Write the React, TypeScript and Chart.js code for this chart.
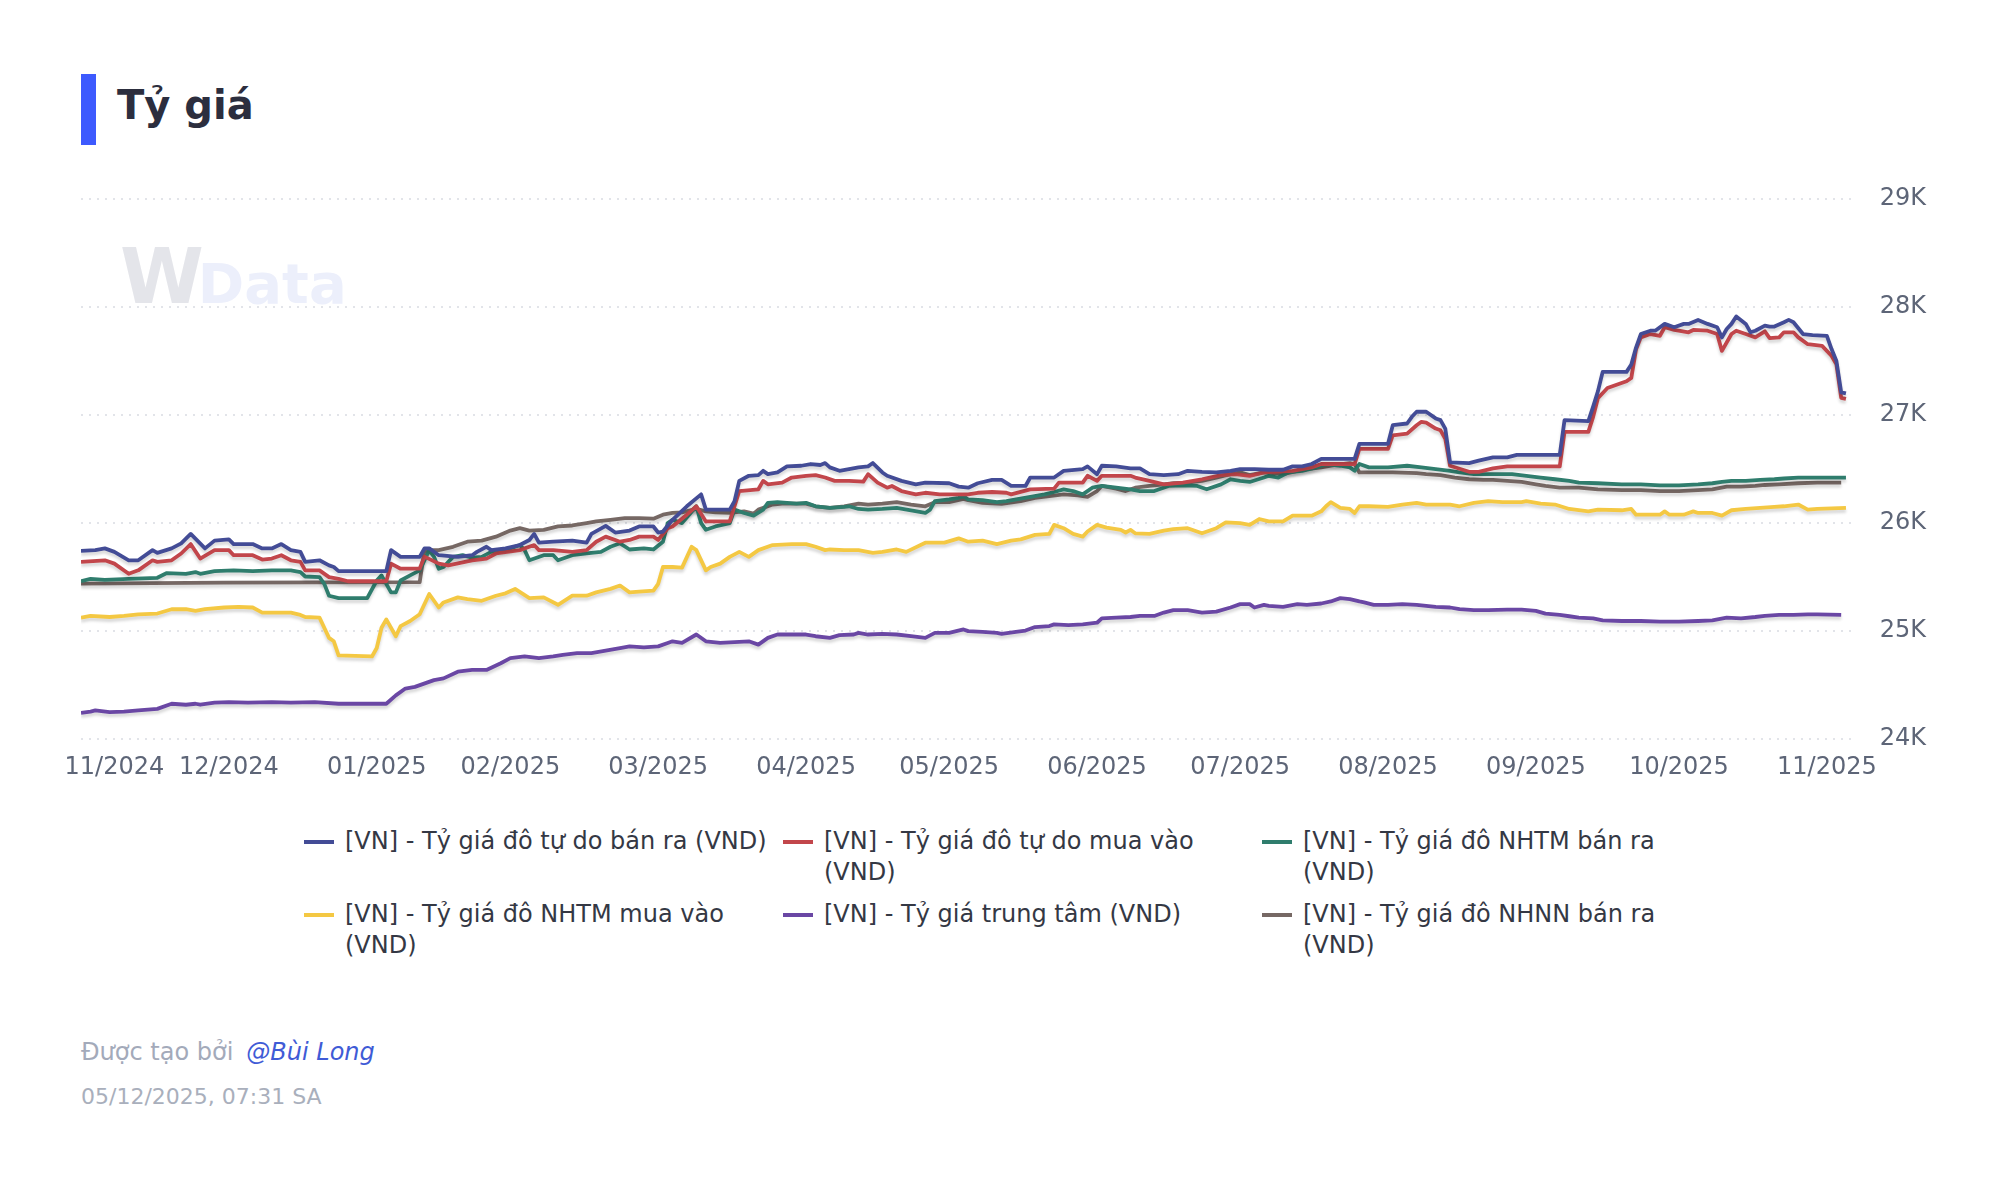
import React, { useEffect, useRef } from "react";
import { Chart, registerables } from "chart.js";

Chart.register(...registerables);

// ---- Data (x = days since 2024-10-31) ----
const START_DATE = "2024-10-31";
const TICK_DAYS = [7, 31, 62, 90, 121, 152, 182, 213, 243, 274, 305, 335, 366];
const TICK_LABELS = ["11/2024", "12/2024", "01/2025", "02/2025", "03/2025", "04/2025", "05/2025", "06/2025", "07/2025", "08/2025", "09/2025", "10/2025", "11/2025"];
const Y_MIN = 24000;
const Y_MAX = 29000;
const Y_STEP = 1000;

const SERIES_NAMES = [
  "[VN] - Tỷ giá đô tự do bán ra (VND)",
  "[VN] - Tỷ giá đô tự do mua vào (VND)",
  "[VN] - Tỷ giá đô NHTM bán ra (VND)",
  "[VN] - Tỷ giá đô NHTM mua vào (VND)",
  "[VN] - Tỷ giá trung tâm (VND)",
  "[VN] - Tỷ giá đô NHNN bán ra (VND)",
];
const SERIES_COLORS = ["#434c96", "#c2464b", "#2f7d6d", "#f4c843", "#6a47a4", "#766864"];

const FREE_SELL: [number, number][] = [
  [0,25744],[3,25750],[5,25766],[7,25734],[10,25656],[12,25656],[15,25750],[16,25725],[19,25766],[21,25813],[23,25900],[26,25766],[28,25838],[31,25850],[32,25806],[36,25806],[38,25766],[40,25766],[42,25806],[44,25750],[46,25734],[47,25641],[50,25656],[52,25609],[53,25594],[54,25556],[61,25556],[64,25556],[65,25750],[67,25688],[71,25688],[72,25766],[73,25766],[75,25703],[79,25688],[82,25703],[83,25734],[85,25781],[86,25750],[89,25766],[92,25797],[94,25844],[95,25900],[96,25819],[99,25828],[103,25838],[106,25819],[107,25900],[110,25975],[112,25913],[115,25931],[117,25969],[120,25969],[121,25913],[122,25922],[124,26031],[127,26156],[130,26266],[131,26125],[136,26125],[137,26203],[138,26391],[140,26438],[142,26444],[143,26484],[144,26453],[146,26469],[148,26525],[151,26531],[153,26547],[155,26538],[156,26556],[157,26516],[159,26484],[161,26500],[163,26516],[165,26525],[166,26556],[168,26469],[169,26438],[172,26391],[175,26359],[177,26375],[182,26369],[184,26338],[186,26328],[188,26369],[191,26400],[193,26400],[195,26344],[198,26344],[199,26422],[204,26422],[206,26484],[210,26500],[211,26525],[213,26453],[214,26531],[217,26525],[220,26506],[222,26506],[224,26453],[227,26444],[230,26453],[232,26484],[235,26475],[238,26469],[241,26484],[243,26500],[246,26500],[249,26494],[252,26494],[254,26525],[256,26525],[258,26547],[260,26594],[267,26594],[268,26734],[274,26734],[275,26906],[278,26922],[279,26984],[280,27031],[282,27031],[284,26969],[285,26953],[286,26875],[287,26563],[291,26556],[293,26578],[296,26609],[299,26609],[301,26631],[310,26631],[311,26953],[316,26944],[317,27078],[318,27219],[319,27400],[324,27400],[325,27469],[326,27625],[327,27750],[329,27781],[330,27781],[332,27844],[334,27813],[336,27844],[337,27844],[339,27881],[341,27844],[343,27813],[344,27719],[345,27797],[346,27844],[347,27913],[349,27844],[350,27766],[351,27781],[353,27828],[354,27819],[355,27819],[357,27859],[358,27881],[359,27859],[361,27750],[363,27741],[366,27734],[367,27609],[368,27500],[369,27210],[370,27200],
];

const FREE_BUY: [number, number][] = [
  [0,25641],[5,25656],[7,25625],[10,25531],[12,25563],[15,25656],[16,25641],[19,25656],[21,25719],[23,25806],[25,25672],[28,25750],[31,25750],[32,25703],[36,25703],[38,25663],[40,25672],[42,25703],[44,25656],[46,25641],[47,25563],[50,25563],[52,25500],[54,25484],[56,25462],[61,25462],[64,25462],[65,25625],[67,25578],[71,25578],[72,25690],[75,25625],[77,25609],[82,25656],[85,25672],[87,25719],[92,25750],[95,25797],[96,25750],[99,25750],[103,25734],[106,25750],[108,25828],[110,25875],[113,25828],[115,25844],[117,25875],[120,25875],[121,25844],[123,25953],[124,25969],[127,26078],[129,26156],[131,26016],[136,26016],[137,26156],[138,26297],[142,26313],[143,26391],[144,26359],[147,26375],[149,26422],[152,26438],[154,26444],[156,26422],[158,26391],[161,26391],[164,26384],[165,26453],[167,26375],[169,26328],[170,26344],[172,26297],[175,26266],[177,26281],[180,26266],[183,26266],[186,26266],[188,26281],[191,26288],[194,26281],[195,26266],[199,26313],[204,26319],[205,26375],[210,26375],[211,26438],[213,26391],[214,26438],[220,26438],[221,26422],[224,26391],[227,26359],[231,26375],[235,26406],[239,26444],[242,26453],[245,26438],[248,26469],[254,26484],[258,26516],[260,26547],[267,26547],[268,26688],[274,26688],[275,26813],[278,26828],[280,26906],[281,26938],[282,26931],[284,26875],[285,26859],[286,26781],[287,26531],[291,26475],[293,26475],[296,26506],[299,26525],[302,26525],[305,26525],[310,26525],[311,26844],[316,26844],[317,26984],[318,27156],[320,27250],[324,27313],[325,27344],[326,27609],[327,27719],[329,27750],[331,27734],[332,27813],[334,27788],[337,27766],[338,27788],[341,27781],[343,27750],[344,27594],[346,27750],[347,27781],[349,27750],[351,27719],[353,27775],[354,27713],[356,27719],[357,27766],[359,27766],[360,27719],[362,27656],[365,27641],[367,27547],[368,27469],[369,27160],[370,27150],
];

const BANK_SELL: [number, number][] = [
  [0,25463],[2,25484],[5,25475],[10,25484],[16,25494],[18,25538],[22,25531],[24,25547],[25,25531],[28,25556],[32,25563],[36,25556],[40,25563],[44,25563],[46,25547],[47,25506],[50,25500],[51,25438],[52,25328],[54,25306],[60,25306],[62,25469],[63,25516],[65,25359],[66,25359],[67,25469],[69,25516],[71,25563],[73,25750],[74,25688],[75,25578],[76,25594],[78,25688],[80,25703],[82,25681],[84,25688],[86,25734],[89,25750],[92,25797],[93,25750],[94,25656],[97,25703],[99,25703],[100,25656],[103,25703],[106,25719],[109,25734],[111,25781],[113,25813],[115,25756],[118,25766],[120,25756],[122,25828],[123,26000],[124,26031],[126,26000],[129,26156],[130,26000],[131,25938],[133,25969],[136,26000],[137,26125],[139,26094],[141,26069],[143,26125],[144,26188],[146,26194],[150,26181],[152,26188],[154,26156],[157,26141],[160,26150],[161,26156],[163,26131],[165,26125],[168,26131],[171,26141],[174,26119],[177,26094],[178,26125],[179,26203],[182,26219],[184,26234],[185,26250],[186,26219],[189,26213],[192,26194],[194,26203],[199,26244],[202,26266],[204,26288],[206,26313],[208,26297],[210,26266],[212,26328],[214,26344],[217,26328],[220,26313],[222,26297],[225,26297],[228,26344],[231,26350],[234,26344],[236,26313],[239,26359],[241,26406],[243,26391],[245,26381],[248,26422],[249,26438],[251,26422],[253,26469],[256,26484],[259,26516],[261,26547],[264,26531],[266,26516],[267,26484],[268,26547],[270,26516],[274,26516],[278,26531],[281,26516],[284,26500],[287,26484],[289,26469],[292,26453],[295,26453],[298,26453],[300,26453],[303,26438],[306,26422],[309,26406],[312,26391],[314,26375],[318,26369],[323,26359],[327,26359],[331,26350],[335,26350],[339,26359],[342,26369],[344,26381],[346,26391],[349,26391],[352,26400],[355,26406],[357,26413],[360,26422],[364,26422],[370,26422],
];

const BANK_BUY: [number, number][] = [
  [0,25125],[2,25141],[6,25131],[9,25141],[12,25156],[16,25163],[19,25203],[22,25203],[24,25188],[26,25203],[30,25219],[33,25225],[36,25219],[38,25172],[40,25172],[44,25172],[46,25150],[47,25131],[50,25125],[51,25031],[52,24938],[53,24906],[54,24775],[61,24766],[62,24844],[63,25031],[64,25109],[66,24953],[67,25047],[69,25094],[71,25156],[73,25344],[75,25219],[76,25266],[79,25313],[81,25297],[84,25281],[87,25328],[89,25350],[91,25391],[94,25306],[97,25313],[100,25244],[103,25328],[106,25328],[108,25359],[111,25391],[113,25422],[115,25359],[117,25366],[120,25375],[121,25438],[122,25594],[124,25594],[126,25588],[128,25781],[129,25750],[131,25563],[132,25594],[134,25625],[136,25688],[138,25734],[140,25688],[142,25750],[145,25797],[149,25806],[152,25806],[154,25781],[156,25750],[157,25756],[160,25750],[163,25750],[166,25725],[168,25734],[171,25756],[173,25734],[177,25819],[181,25819],[184,25859],[185,25844],[186,25828],[189,25838],[192,25806],[195,25838],[197,25850],[200,25891],[203,25900],[204,25984],[206,25953],[208,25900],[210,25875],[211,25922],[213,25984],[215,25959],[218,25938],[219,25913],[220,25938],[221,25906],[224,25900],[227,25931],[229,25944],[232,25953],[235,25906],[238,25953],[240,26006],[243,26000],[245,25984],[247,26038],[249,26016],[252,26016],[254,26069],[258,26069],[260,26109],[261,26156],[262,26194],[264,26141],[266,26131],[267,26094],[268,26156],[270,26156],[274,26150],[277,26172],[280,26188],[282,26172],[287,26172],[289,26156],[292,26188],[295,26203],[298,26194],[302,26194],[303,26203],[306,26181],[309,26172],[312,26131],[316,26109],[318,26125],[323,26119],[325,26131],[326,26078],[331,26078],[332,26109],[333,26078],[336,26078],[338,26109],[339,26094],[342,26094],[344,26069],[346,26119],[349,26131],[352,26141],[355,26150],[357,26156],[360,26172],[362,26125],[364,26131],[370,26141],
];

const CENTRAL: [number, number][] = [
  [0,24244],[2,24256],[3,24266],[6,24250],[9,24256],[12,24266],[16,24281],[19,24328],[22,24319],[24,24328],[25,24319],[28,24338],[31,24344],[35,24338],[40,24344],[44,24338],[49,24344],[54,24328],[64,24328],[66,24406],[68,24469],[70,24484],[74,24547],[76,24563],[79,24625],[82,24641],[85,24641],[88,24703],[90,24750],[93,24766],[96,24750],[99,24766],[101,24781],[104,24797],[107,24797],[110,24819],[113,24844],[115,24859],[118,24850],[121,24859],[123,24891],[124,24906],[126,24891],[129,24969],[131,24906],[134,24891],[138,24900],[140,24906],[142,24875],[144,24938],[146,24969],[152,24969],[154,24953],[157,24938],[159,24963],[162,24969],[163,24984],[165,24969],[168,24975],[171,24969],[174,24953],[177,24938],[179,24984],[182,24984],[185,25016],[186,25000],[189,24994],[192,24984],[193,24975],[196,24994],[198,25006],[200,25038],[203,25047],[204,25063],[207,25056],[210,25063],[213,25078],[214,25119],[217,25125],[220,25131],[222,25141],[225,25141],[227,25172],[229,25194],[232,25194],[235,25172],[238,25181],[241,25219],[243,25250],[245,25250],[246,25219],[248,25244],[249,25234],[252,25225],[255,25250],[257,25244],[260,25256],[262,25275],[264,25306],[266,25297],[268,25275],[269,25266],[271,25244],[274,25244],[277,25250],[280,25244],[282,25234],[284,25225],[287,25219],[289,25203],[292,25194],[295,25194],[299,25200],[302,25200],[305,25188],[307,25163],[310,25150],[312,25138],[314,25125],[317,25119],[319,25100],[323,25094],[327,25094],[331,25088],[335,25088],[339,25094],[342,25100],[345,25125],[348,25119],[351,25131],[353,25141],[356,25150],[359,25150],[362,25156],[364,25156],[369,25150],
];

const SBV_SELL: [number, number][] = [
  [0,25440],[30,25450],[71,25453],[72,25750],[75,25750],[78,25781],[81,25828],[84,25838],[87,25875],[90,25931],[92,25953],[94,25931],[97,25938],[100,25969],[103,25978],[106,26000],[108,26016],[111,26031],[114,26047],[117,26047],[120,26041],[122,26078],[124,26094],[126,26100],[129,26131],[131,26109],[133,26100],[136,26094],[139,26109],[141,26088],[142,26125],[145,26172],[147,26181],[152,26181],[154,26156],[157,26141],[160,26156],[163,26181],[165,26172],[168,26181],[171,26194],[174,26172],[177,26156],[179,26194],[182,26194],[185,26225],[186,26213],[189,26188],[193,26178],[197,26203],[200,26234],[203,26250],[206,26266],[209,26256],[211,26244],[213,26297],[214,26344],[217,26319],[219,26297],[221,26328],[224,26344],[227,26359],[229,26369],[232,26375],[235,26391],[238,26422],[241,26453],[243,26469],[245,26444],[248,26469],[252,26453],[255,26484],[257,26500],[260,26516],[263,26538],[266,26556],[267,26547],[268,26469],[271,26469],[275,26469],[280,26463],[282,26453],[285,26444],[288,26422],[291,26406],[294,26400],[296,26400],[299,26391],[302,26381],[305,26359],[307,26344],[310,26328],[314,26328],[318,26313],[323,26306],[327,26306],[331,26297],[335,26297],[339,26306],[342,26313],[345,26338],[348,26338],[351,26344],[353,26353],[356,26359],[360,26369],[364,26375],[369,26375],
];

const SERIES = [FREE_SELL, FREE_BUY, BANK_SELL, BANK_BUY, CENTRAL, SBV_SELL];

const FONT = "'DejaVu Sans', 'Noto Sans', sans-serif";

const shadowPlugin = {
  id: "lineShadow",
  beforeDatasetDraw(chart: any) {
    const ctx = chart.ctx;
    ctx.save();
    ctx.shadowColor = "rgba(0,0,0,0.16)";
    ctx.shadowBlur = 3;
    ctx.shadowOffsetY = 3;
  },
  afterDatasetDraw(chart: any) {
    chart.ctx.restore();
  },
};

function LineChart() {
  const ref = useRef<HTMLCanvasElement | null>(null);
  useEffect(() => {
    if (!ref.current) return;
    Chart.defaults.font.family = FONT;
    const chart = new Chart(ref.current, {
      type: "line",
      data: {
        datasets: SERIES.map((pts, i) => ({
          label: SERIES_NAMES[i],
          data: pts.map(([d, v]) => ({ x: d, y: v })),
          borderColor: SERIES_COLORS[i],
          backgroundColor: SERIES_COLORS[i],
          borderWidth: 3.8,
          pointRadius: 0,
          tension: 0,
          fill: false,
          borderJoinStyle: "round" as const,
        })),
      },
      options: {
        animation: false,
        responsive: false,
        maintainAspectRatio: false,
        devicePixelRatio: 1,
        layout: { padding: { left: 81, top: 199, right: 45, bottom: 12 } },
        plugins: {
          legend: { display: false },
          tooltip: { enabled: false },
          title: { display: false },
        },
        scales: {
          x: {
            type: "linear",
            min: 0,
            max: 371,
            grid: { display: false },
            border: { display: false },
            afterBuildTicks: (scale: any) => {
              scale.ticks = TICK_DAYS.map((v) => ({ value: v }));
            },
            ticks: {
              autoSkip: false,
              maxRotation: 0,
              padding: 6,
              color: "#5d6577",
              font: { size: 24, family: FONT },
              callback: (_v: any, i: number) => TICK_LABELS[i],
            },
          },
          y: {
            position: "right",
            min: Y_MIN,
            max: Y_MAX,
            grid: { color: "#e2e4e9", lineWidth: 2, drawTicks: false },
            border: { display: false, dash: [2, 6] },
            ticks: {
              stepSize: Y_STEP,
              padding: 29,
              color: "#5d6577",
              font: { size: 24, family: FONT },
              callback: (v: any) => `${Number(v) / 1000}K`,
            },
          },
        },
      },
      plugins: [shadowPlugin],
    });
    return () => chart.destroy();
  }, []);
  return <canvas ref={ref} width={2000} height={800} style={{ position: "absolute", left: 0, top: 0, width: 2000, height: 800 }} />;
}

export default function App() {
  return (
    <div style={{ position: "absolute", left: 0, top: 0, width: 2000, height: 1188, background: "#ffffff", fontFamily: FONT, overflow: "hidden" }}>
      {/* Title */}
      <div style={{ position: "absolute", left: 81, top: 74, height: 71, display: "flex", alignItems: "center" }}>
        <div style={{ width: 15, height: 71, background: "#3d5afe" }} />
        <div style={{ marginLeft: 21, marginTop: -8, fontSize: 40, fontWeight: 700, color: "#2c2e3e", lineHeight: "71px" }}>Tỷ giá</div>
      </div>
      {/* Watermark */}
      <div style={{ position: "absolute", left: 120, top: 232, fontWeight: 700, lineHeight: "90px", whiteSpace: "nowrap" }}>
        <span style={{ color: "#e4e5ea", fontSize: 76, letterSpacing: -6 }}>W</span>
        <span style={{ color: "#eceffb", fontSize: 56 }}>Data</span>
      </div>
      <LineChart />
      {/* Legend */}
      <div style={{ position: "absolute", left: 304, top: 826, display: "grid", gridTemplateColumns: "479px 479px 479px", rowGap: 11 }}>
        {SERIES_NAMES.map((name, i) => (
          <div key={name} style={{ display: "flex", alignItems: "flex-start" }}>
            <div style={{ width: 30, height: 4, marginTop: 14, marginRight: 11, background: SERIES_COLORS[i], flex: "none" }} />
            <div style={{ width: 426, fontSize: 24, lineHeight: "31px", color: "#343844" }}>{name}</div>
          </div>
        ))}
      </div>
      {/* Footer */}
      <div style={{ position: "absolute", left: 81, top: 1038, fontSize: 24, lineHeight: "28px", whiteSpace: "nowrap" }}>
        <span style={{ color: "#a3aaba" }}>Được tạo bởi</span>
        <span style={{ color: "#3f5bd6", fontStyle: "italic", marginLeft: 13 }}>@Bùi Long</span>
      </div>
      <div style={{ position: "absolute", left: 81, top: 1084, fontSize: 22, lineHeight: "26px", color: "#a9afbc", whiteSpace: "nowrap" }}>
        05/12/2025, 07:31 SA
      </div>
    </div>
  );
}
